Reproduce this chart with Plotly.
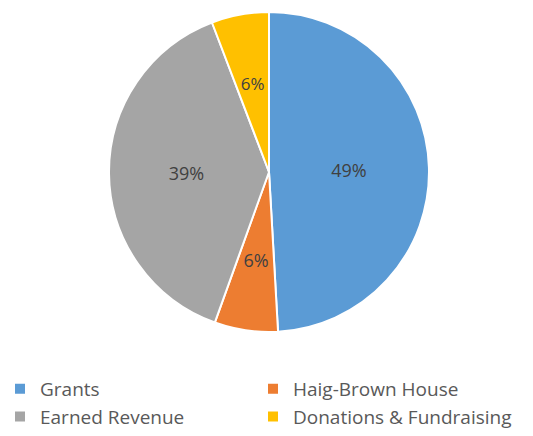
import plotly.graph_objects as go

categories = ["Grants", "Haig-Brown House", "Earned Revenue", "Donations & Fundraising"]
values = [49.1, 6.4, 38.7, 5.8]
colors = ["#5B9BD5", "#ED7D31", "#A5A5A5", "#FFC000"]
# labels of the narrow slices are drawn by an inner, transparent copy of the pie
small_slice = [v < 10 for v in values]

# the page body has an 8px margin, so the figure is sized to the visible area
W, H = 525, 428
OFF = 8
cx, cy, r = 269 - OFF, 172 - OFF, 160
r_in = 107


def dom(rad):
    return dict(x=[(cx - rad) / W, (cx + rad) / W], y=[(H - cy - rad) / H, (H - cy + rad) / H])


pct = "%{percent:.0%}"
label_font = dict(family="Open Sans", size=18, color="#404040")

fig = go.Figure()
fig.add_trace(go.Pie(
    labels=categories,
    values=values,
    sort=False,
    direction="clockwise",
    rotation=0,
    marker=dict(colors=colors, line=dict(color="white", width=2)),
    texttemplate=["" if s else pct for s in small_slice],
    textposition="inside",
    insidetextorientation="horizontal",
    textfont=label_font,
    domain=dom(r),
    hoverinfo="label+percent",
))
fig.add_trace(go.Pie(
    labels=categories,
    values=values,
    sort=False,
    direction="clockwise",
    rotation=0,
    marker=dict(colors=["rgba(0,0,0,0)"] * len(values), line=dict(width=0)),
    texttemplate=[pct if s else "" for s in small_slice],
    textposition="inside",
    insidetextorientation="horizontal",
    textfont=label_font,
    domain=dom(r_in),
    hoverinfo="skip",
    showlegend=False,
))
fig.update_layout(
    width=W, height=H,
    margin=dict(l=0, r=0, t=0, b=0),
    paper_bgcolor="white",
    font=dict(family="Open Sans", color="#595959"),
    showlegend=True,
    legend=dict(
        orientation="h",
        x=0, xanchor="left",
        y=(H - 362) / H, yanchor="top",
        indentation=-8,
        entrywidth=216, entrywidthmode="pixels",
        font=dict(family="Open Sans", size=19, color="#595959"),
        traceorder="normal",
    ),
)
fig.write_html("out.html")
